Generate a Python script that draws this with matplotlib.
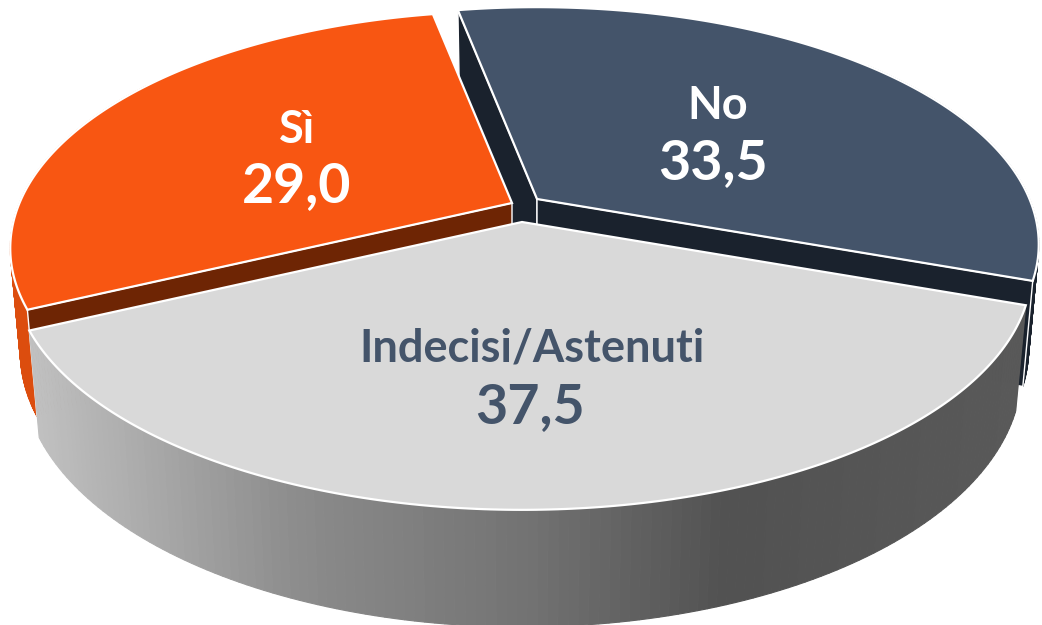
import numpy as np
import matplotlib
matplotlib.use('Agg')
import matplotlib.pyplot as plt

plt.rcParams['font.family'] = ['Lato', 'DejaVu Sans']

# data
labels = ['No', 'Indecisi/Astenuti', 'Sì']
values = [33.5, 37.5, 29.0]
value_labels = ['33,5', '37,5', '29,0']
start_angle = -11

# look of the 3d pie, everything in picture pixels
top_colors = ['#44546A', '#D9D9D9', '#F85612']
face_colors = ['#1A222D', '#6B6B6B', '#6E2504']
wall_colors = ['#1A222D', '#808080', '#DC4D0E']
centers = [(537, 199), (522, 222), (512, 203)]
radius = [0.985, 1.0, 0.985]
A, B, k = 500, 232, 0.194
sx, sy, depth = 0.98, 1.056, 101

# wall shading of the grey slice, left to right
shade_x = [30, 300, 530, 730, 1030]
shade_v = [0.76, 0.55, 0.45, 0.32, 0.35]

fig = plt.figure(figsize=(10.42, 6.25), dpi=100)
ax = fig.add_axes([0, 0, 1, 1])
ax.set_xlim(0, 1042)
ax.set_ylim(625, 0)
ax.axis('off')


def project(t, r, c, low=False):
    t = np.radians(t)
    x = r * np.sin(t)
    y = r * np.cos(t)
    px = A * x / (1 + k * y)
    py = B * y / (1 + k * y)
    if low:
        px = px * sx
        py = py * sy - depth
    return c[0] + px, c[1] - py


# angles of the slices from the values
total = sum(values)
edges = [start_angle]
for v in values:
    edges.append(edges[-1] + v / total * 360)


def draw_slice(i, wall_from, wall_to, cut_angles):
    c = centers[i]
    r = radius[i]
    ts = np.linspace(edges[i], edges[i + 1], 200)

    # outer wall
    tw = np.linspace(wall_from, wall_to, 140)
    ux, uy = project(tw, r, c)
    lx, ly = project(tw, r, c, low=True)
    for j in range(len(tw) - 1):
        col = wall_colors[i]
        if i == 1:
            col = str(np.interp((ux[j] + lx[j]) / 2, shade_x, shade_v))
        ax.fill([ux[j], ux[j + 1], lx[j + 1], lx[j]],
                [uy[j], uy[j + 1], ly[j + 1], ly[j]],
                color=col, ec=col, lw=0.8)

    # cut faces
    for a in cut_angles:
        x0, y0 = project(a, 0, c)
        x1, y1 = project(a, r, c)
        x2, y2 = project(a, r, c, low=True)
        x3, y3 = project(a, 0, c, low=True)
        ax.fill([x0, x1, x2, x3], [y0, y1, y2, y3], color=face_colors[i], ec='white', lw=1)

    # top
    x, y = project(ts, r, c)
    x0, y0 = project(0, 0, c)
    ax.fill(np.r_[x0, x], np.r_[y0, y], color=top_colors[i], ec='white', lw=1.6, joinstyle='miter')


# back slices first, grey one covers the rest
draw_slice(0, edges[0] + 60, edges[1], [edges[0], edges[1]])
draw_slice(2, edges[2], edges[2] + 60, [edges[2]])
draw_slice(1, edges[1], edges[2], [])

name_size = 32.5
value_size = 40
ax.text(718, 106, labels[0], color='white', fontsize=name_size, fontweight='bold', ha='center', va='center')
ax.text(713, 163, value_labels[0], color='white', fontsize=value_size, fontweight='bold', ha='center', va='center')
ax.text(297, 130, labels[2], color='white', fontsize=name_size, fontweight='bold', ha='center', va='center')
ax.text(297, 186, value_labels[2], color='white', fontsize=value_size, fontweight='bold', ha='center', va='center')
ax.text(532, 348, labels[1], color='#44546A', fontsize=name_size, fontweight='bold', ha='center', va='center')
ax.text(530, 407, value_labels[1], color='#44546A', fontsize=value_size, fontweight='bold', ha='center', va='center')

fig.savefig('out.png', dpi=100)
